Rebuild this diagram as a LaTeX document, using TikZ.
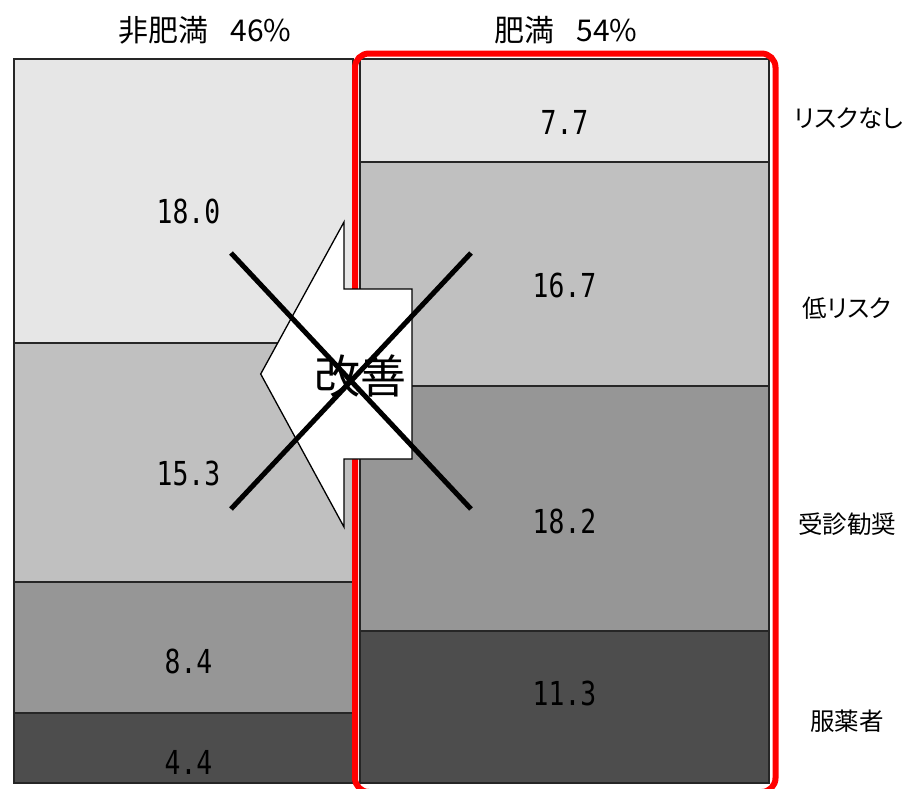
\documentclass[tikz,border=0pt]{standalone}
\usepackage{fontspec}
\setmainfont{Noto Sans CJK JP}
\newfontfamily\jpfont{Noto Sans CJK JP}[RawFeature=+palt]
\newfontfamily\numfont{DejaVu Sans Mono}
\definecolor{cA}{gray}{0.902}
\definecolor{cB}{gray}{0.753}
\definecolor{cC}{gray}{0.588}
\definecolor{cD}{gray}{0.302}
\definecolor{redline}{RGB}{255,0,0}
\tikzset{
  seg/.style={draw=black!85, line width=1.5pt},
  numlbl/.style={font=\numfont\fontsize{33}{36}\selectfont, xscale=0.8, inner sep=0pt},
  catlbl/.style={font=\jpfont\fontsize{24.5}{28}\selectfont, inner sep=0pt},
  title/.style={font=\jpfont\fontsize{30}{33}\selectfont, inner sep=0pt},
  arrowshape/.style={draw=black, fill=white, line width=1.3pt, line join=miter},
  xline/.style={draw=black, line width=5pt},
  redbox/.style={draw=redline, line width=6pt, rounded corners=14pt}
}
\begin{document}
\begin{tikzpicture}[x=1pt,y=-1pt]
\useasboundingbox (0,0) rectangle (907,788);
\clip (0,0) rectangle (907,788);
\fill[white] (0,0) rectangle (907,788);
% left bar (non-obese)
\filldraw[seg, fill=cA] (14,59) rectangle (353,343);
\filldraw[seg, fill=cB] (14,343) rectangle (353,582);
\filldraw[seg, fill=cC] (14,582) rectangle (353,713);
\filldraw[seg, fill=cD] (14,713) rectangle (353,783);
% right bar (obese)
\filldraw[seg, fill=cA] (360,59) rectangle (769,162);
\filldraw[seg, fill=cB] (360,162) rectangle (769,386);
\filldraw[seg, fill=cC] (360,386) rectangle (769,631);
\filldraw[seg, fill=cD] (360,631) rectangle (769,783);
% values
\node[numlbl] (l1) at (188.5,211) {18.0};
\node[numlbl] (l2) at (188.5,473) {15.3};
\node[numlbl] (l3) at (188.5,661) {8.4};
\node[numlbl] (l4) at (188.5,762) {4.4};
\node[numlbl] (r1) at (564.5,122) {7.7};
\node[numlbl] (r2) at (564.5,285) {16.7};
\node[numlbl] (r3) at (564.5,521) {18.2};
\node[numlbl] (r4) at (564.5,693) {11.3};
% titles
\node[title] (t1) at (205,30) {非肥満\hspace{22pt}46\%};
\node[title] (t2) at (566,30) {肥満\hspace{22pt}54\%};
% categories
\node[catlbl] (k1) at (849,118) {リスクなし};
\node[catlbl] (k2) at (847,308) {低リスク};
\node[catlbl] (k3) at (847,524) {受診勧奨};
\node[catlbl] (k4) at (847,721) {服薬者};
% red frame
\draw[redbox] (355,53.5) rectangle (775.5,792);
% arrow
\draw[arrowshape] (260.7,374) -- (344,222) -- (344,289) -- (412,289) -- (412,459) -- (344,459) -- (344,527) -- cycle;
\node[font=\jpfont\fontsize{46}{49}\selectfont, inner sep=0pt] (kz) at (360,376) {改善};
% cross
\coordinate (xa) at (231,253);
\coordinate (xb) at (471,509);
\coordinate (xc) at (231,509);
\coordinate (xd) at (471,253);
\draw[xline] (xa) -- (xb);
\draw[xline] (xc) -- (xd);
\end{tikzpicture}
\end{document}
